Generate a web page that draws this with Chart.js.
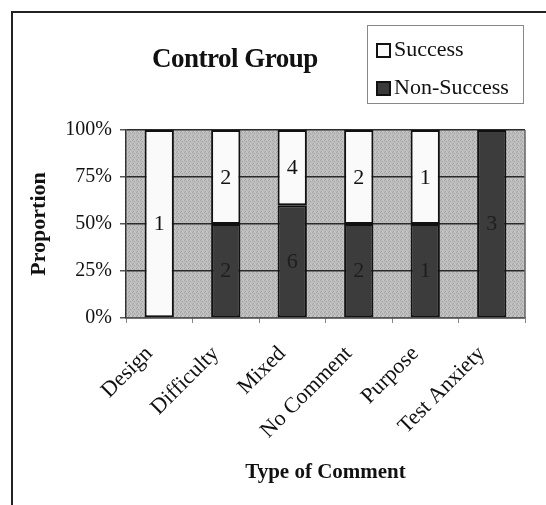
<!DOCTYPE html>
<html>
<head>
<meta charset="utf-8">
<script src="https://cdn.jsdelivr.net/npm/chart.js@4.4.7/dist/chart.umd.min.js"></script>
<style>
  html, body { margin: 0; padding: 0; background: #fff; }
  #wrap { position: relative; width: 546px; height: 505px; overflow: hidden; font-family: "Liberation Serif", "Times New Roman", serif; }
  #frame { position: absolute; left: 11px; top: 11px; width: 600px; height: 600px; border-left: 2px solid #222; border-top: 2px solid #222; }
  #chartBox { position: absolute; left: 0; top: 0; width: 546px; height: 505px; }
  #title { position: absolute; left: 152px; top: 43px; font-size: 27px; font-weight: bold; letter-spacing: -0.5px; color: #111; white-space: nowrap; }
  #legend { position: absolute; left: 367px; top: 25px; width: 157px; height: 79px; border: 1px solid #888; box-sizing: border-box; font-size: 22px; color: #111; }
  .item { position: absolute; left: 8px; white-space: nowrap; line-height: 24px; }
  .item span.sw { display: inline-block; width: 15px; height: 15px; border: 2px solid #111; vertical-align: -2px; margin-right: 3px; box-sizing: border-box; }
</style>
</head>
<body>
<div id="wrap">
  <div id="frame"></div>
  <div id="chartBox"><canvas id="chart"></canvas></div>
  <div id="title">Control Group</div>
  <div id="legend">
    <div class="item" style="top:11px"><span class="sw" style="background:#fafafa"></span>Success</div>
    <div class="item" style="top:49px"><span class="sw" style="background:#3a3a3a"></span>Non-Success</div>
  </div>
</div>
<script>
const categories = ["Design", "Difficulty", "Mixed", "No Comment", "Purpose", "Test Anxiety"]
const successCounts = [1, 2, 4, 2, 1, 0]
const nonSuccessCounts = [0, 2, 6, 2, 1, 3]
const yTicks = [0, 25, 50, 75, 100]

const totals = categories.map((c, i) => successCounts[i] + nonSuccessCounts[i])
// zero counts get no segment at all
const toPct = (v, i) => v ? v / totals[i] * 100 : null
const nonSuccessPct = nonSuccessCounts.map(toPct)
const successPct = successCounts.map(toPct)

// stippled grey plot background
function makeStipple() {
  const c = document.createElement("canvas")
  c.width = 4; c.height = 4
  const g = c.getContext("2d")
  g.fillStyle = "#bcbcbc"
  g.fillRect(0, 0, 4, 4)
  g.fillStyle = "#a4a4a4"
  g.fillRect(0, 0, 1, 1); g.fillRect(2, 1, 1, 1); g.fillRect(1, 3, 1, 1)
  g.fillStyle = "#cacaca"
  g.fillRect(2, 3, 1, 1); g.fillRect(3, 0, 1, 1)
  return c
}

const plotBackground = {
  id: "plotBackground",
  beforeDraw(chart) {
    const { ctx, chartArea: a } = chart
    ctx.save()
    ctx.fillStyle = ctx.createPattern(makeStipple(), "repeat")
    ctx.fillRect(a.left, a.top, a.right - a.left, a.bottom - a.top)
    ctx.restore()
  },
  afterDraw(chart) {
    const { ctx, chartArea: a } = chart
    ctx.save()
    ctx.strokeStyle = "#666"
    ctx.lineWidth = 1.5
    ctx.beginPath()
    ctx.moveTo(a.right, a.top)
    ctx.lineTo(a.right, a.bottom)
    ctx.stroke()
    ctx.restore()
  }
}

const countLabels = {
  id: "countLabels",
  afterDatasetsDraw(chart) {
    const { ctx } = chart
    const counts = [nonSuccessCounts, successCounts]
    const colors = ["#1e1e1e", "#111"]
    ctx.save()
    ctx.font = "22px 'Liberation Serif', serif"
    ctx.textAlign = "center"
    ctx.textBaseline = "middle"
    chart.data.datasets.forEach((ds, di) => {
      chart.getDatasetMeta(di).data.forEach((el, i) => {
        const n = counts[di][i]
        if (!n) return
        ctx.fillStyle = colors[di]
        ctx.fillText(String(n), el.x, (el.y + el.base) / 2 + 1)
      })
    })
    ctx.restore()
  }
}

new Chart(document.getElementById("chart"), {
  type: "bar",
  data: {
    labels: categories,
    datasets: [
      {
        label: "Non-Success",
        data: nonSuccessPct,
        backgroundColor: "#3c3c3c",
        borderColor: "#111",
        borderWidth: 2,
        borderSkipped: false,
        barPercentage: 0.44,
        categoryPercentage: 1
      },
      {
        label: "Success",
        data: successPct,
        backgroundColor: "#fafafa",
        borderColor: "#111",
        borderWidth: 2,
        borderSkipped: false,
        barPercentage: 0.44,
        categoryPercentage: 1
      }
    ]
  },
  options: {
    responsive: true,
    maintainAspectRatio: false,
    animation: false,
    layout: { padding: { top: 130, right: 21, left: 26, bottom: 20 } },
    plugins: {
      legend: { display: false },
      tooltip: { enabled: false }
    },
    scales: {
      x: {
        stacked: true,
        offset: true,
        afterFit: (s) => { s.height = 167 },
        grid: { offset: true, drawOnChartArea: false, drawTicks: true, tickLength: 5, color: "#888" },
        border: { display: true, color: "#555", width: 1.5 },
        ticks: {
          color: "#111",
          font: { family: "'Liberation Serif', serif", size: 22 },
          maxRotation: 45,
          minRotation: 45,
          padding: 18,
          labelOffset: -10
        },
        title: {
          display: true,
          text: "Type of Comment",
          color: "#111",
          font: { family: "'Liberation Serif', serif", size: 21, weight: "bold" },
          padding: { top: 0, bottom: 0 }
        }
      },
      y: {
        stacked: true,
        min: 0,
        max: 100,
        afterFit: (s) => { s.width = 100 },
        afterBuildTicks: (s) => { s.ticks = yTicks.map(v => ({ value: v })) },
        grid: { color: "#2a2a2a", lineWidth: 1.5, tickLength: 6, tickColor: "#555" },
        border: { display: true, color: "#333", width: 1.5 },
        ticks: {
          color: "#111",
          font: { family: "'Liberation Serif', serif", size: 20 },
          padding: 8,
          callback: (v) => v + "%"
        },
        title: {
          display: true,
          text: "Proportion",
          color: "#111",
          font: { family: "'Liberation Serif', serif", size: 22, weight: "bold" },
          padding: { top: 0, bottom: 0 }
        }
      }
    }
  },
  plugins: [plotBackground, countLabels]
})
</script>
</body>
</html>
